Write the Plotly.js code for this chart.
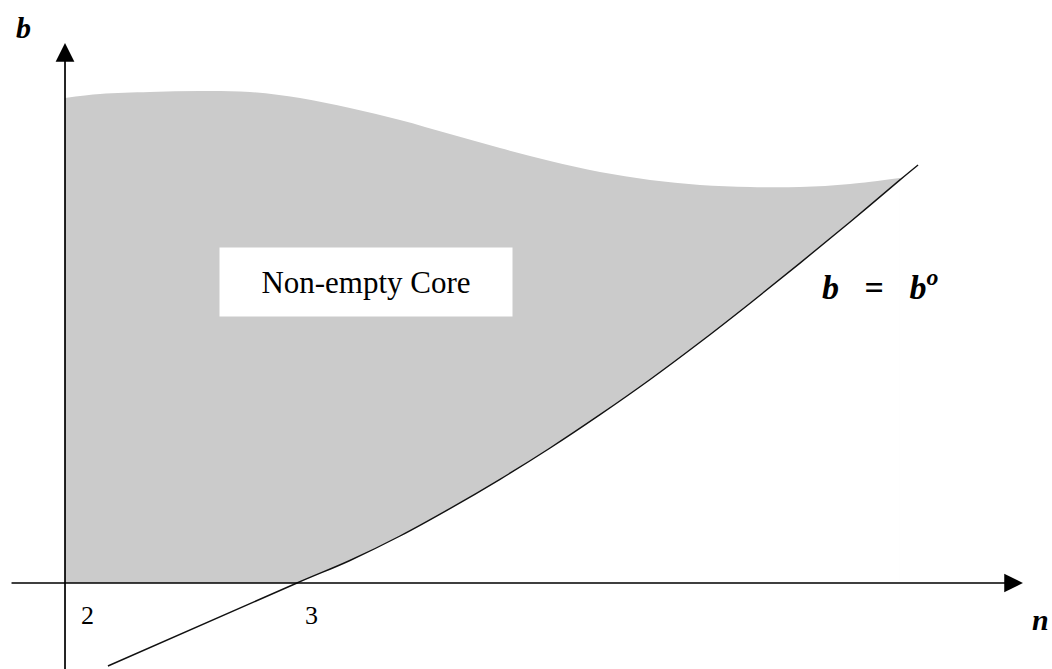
<!DOCTYPE html>
<html>
<head>
<meta charset="utf-8">
<script src="https://cdn.plot.ly/plotly-3.0.1.min.js"></script>
<style>html,body{margin:0;padding:0;background:#fff;}#chart{width:1052px;height:669px;}</style>
</head>
<body>
<div id="chart"></div>
<script>
// Upper boundary of the non-empty core region (n, b)
const topN = [2.000, 2.151, 2.366, 2.582, 2.797, 3.013, 3.228, 3.444, 3.659, 3.875, 4.091, 4.306, 4.522, 4.737, 4.953, 5.168, 5.384, 5.599];
const topB = [4.85, 4.89, 4.91, 4.92, 4.91, 4.85, 4.75, 4.63, 4.49, 4.35, 4.22, 4.11, 4.03, 3.98, 3.96, 3.96, 3.99, 4.05];
// Curve b = b^o
const lineN = [2.185, 3.000, 3.228, 3.444, 3.659, 3.875, 4.091, 4.306, 4.522, 4.737, 4.953, 5.168, 5.384, 5.599, 5.677];
const lineB = [-0.83, 0.00, 0.225, 0.47, 0.744, 1.037, 1.35, 1.683, 2.035, 2.407, 2.798, 3.199, 3.61, 4.031, 4.18];
// Axis tick labels
const tickN = [2, 3];
const tickLabels = ["2", "3"];

// Part of the b^o curve that bounds the core from below (b >= 0, up to the meeting point)
const lowX = [], lowY = [];
lineN.forEach((v, i) => {
  if (lineB[i] >= 0 && v <= topN[topN.length - 1]) { lowX.push(v); lowY.push(lineB[i]); }
});

const traces = [
  {x: topN, y: topB, type: 'scatter', mode: 'lines', fill: 'tozeroy',
   fillcolor: '#cbcbcb', line: {width: 0, color: 'rgba(0,0,0,0)', shape: 'spline', smoothing: 1}, hoverinfo: 'skip'},
  {x: lowX, y: lowY, type: 'scatter', mode: 'lines', fill: 'tozeroy',
   fillcolor: '#ffffff', line: {width: 0, color: 'rgba(0,0,0,0)', shape: 'spline', smoothing: 1}, hoverinfo: 'skip'},
  {x: lineN, y: lineB, type: 'scatter', mode: 'lines',
   line: {color: '#111', width: 1.4, shape: 'spline', smoothing: 1}, hoverinfo: 'skip'}
];

const serif = "Liberation Serif, Times New Roman, serif";
const tickShift = [22, 14];
const annotations = [
  // x axis with arrow
  {x: 6.129, y: 0, ax: 1.763, ay: 0, xref: 'x', yref: 'y', axref: 'x', ayref: 'y',
   text: '', showarrow: true, arrowhead: 2, arrowsize: 2.2, arrowwidth: 1.7, arrowcolor: '#000'},
  // y axis with arrow
  {x: 2, y: 5.40, ax: 2, ay: -0.9, xref: 'x', yref: 'y', axref: 'x', ayref: 'y',
   text: '', showarrow: true, arrowhead: 2, arrowsize: 2.2, arrowwidth: 1.7, arrowcolor: '#000'},
  {x: 1.819, y: 5.56, xref: 'x', yref: 'y', text: '<b><i>b</i></b>', showarrow: false,
   font: {family: serif, size: 30, color: '#000'}},
  {x: 6.203, y: -0.36, xref: 'x', yref: 'y', text: '<b><i>n</i></b>', showarrow: false,
   font: {family: serif, size: 30, color: '#000'}},
  {x: 3.297, y: 3.01, xref: 'x', yref: 'y', text: 'Non-empty Core', showarrow: false,
   bgcolor: '#ffffff', width: 290, height: 66, borderpad: 1,
   font: {family: serif, size: 31, color: '#000'}},
  {x: 5.515, y: 2.98, xref: 'x', yref: 'y',
   text: '<b><i>b</i></b>&#160;&#160;&#160;<b>=</b>&#160;&#160;&#160;<b><i>b</i></b><sup><b><i>o</i></b></sup>',
   showarrow: false, font: {family: serif, size: 34, color: '#000'}}
];
tickN.forEach((v, i) => {
  annotations.push({x: v, y: -0.32, xref: 'x', yref: 'y', xshift: tickShift[i], text: tickLabels[i], showarrow: false,
    font: {family: serif, size: 26, color: '#000'}});
});

const layout = {
  width: 1052, height: 669,
  margin: {l: 0, r: 0, t: 0, b: 0},
  paper_bgcolor: '#fff', plot_bgcolor: '#fff',
  showlegend: false,
  xaxis: {range: [1.7198, 6.2543], visible: false, fixedrange: true},
  yaxis: {range: [-0.86, 5.83], visible: false, fixedrange: true},
  annotations: annotations
};

Plotly.newPlot('chart', traces, layout, {displayModeBar: false, staticPlot: true});
</script>
</body>
</html>
